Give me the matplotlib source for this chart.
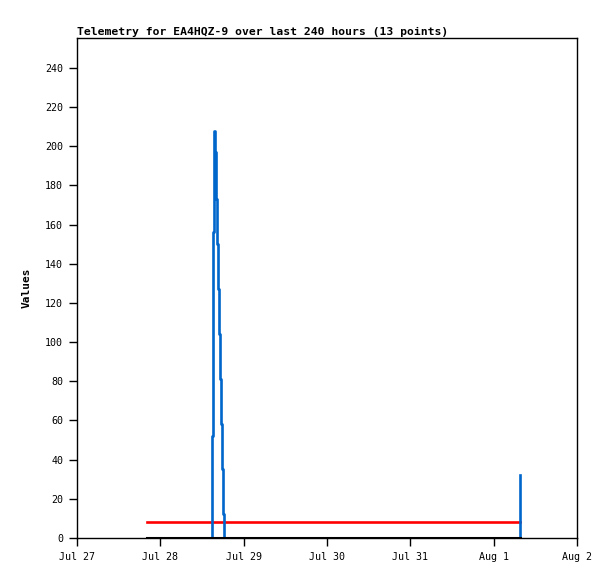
import matplotlib
matplotlib.use("Agg")
import matplotlib.pyplot as plt

# hours since Jul 27 00:00
tick_hours = [0, 24, 48, 72, 96, 120, 144]
tick_labels = ["Jul 27", "Jul 28", "Jul 29", "Jul 30", "Jul 31", "Aug 1", "Aug 2"]
y_ticks = list(range(0, 241, 20))

# channel 1 (blue), drawn as steps
blue_hours = [20.3, 39.0, 39.2, 39.55, 39.75, 40.03, 40.32, 40.61, 40.9,
              41.18, 41.47, 41.76, 42.05, 42.34, 127.7]
blue_vals = [0, 52, 156, 208, 197, 173, 150, 127, 104, 81, 58, 35, 12, 0, 32]

# channel 2 (red) and channel 3 (black)
red_hours = [20.3, 127.6]
red_vals = [8, 8]
black_hours = [20.3, 127.7]
black_vals = [0, 0]

fig = plt.figure(figsize=(6.15, 5.79), dpi=100)
ax = fig.add_axes([77 / 615, 41 / 579, 500 / 615, 500 / 579])

ax.plot(red_hours, red_vals, color="#ff0000", lw=1.9, zorder=2)
ax.plot(blue_hours, blue_vals, color="#0066cc", lw=1.9, drawstyle="steps-post",
        zorder=3)
ax.plot(black_hours, black_vals, color="black", lw=2.2, zorder=4)

ax.set_xlim(0, 144)
ax.set_ylim(0, 255.3)
ax.set_xticks(tick_hours)
ax.set_xticklabels(tick_labels)
ax.set_yticks(y_ticks)

mono = "DejaVu Sans Mono"
for lab in ax.get_xticklabels() + ax.get_yticklabels():
    lab.set_family(mono)
    lab.set_fontsize(7.2)
ax.tick_params(direction="out", length=6, width=1, pad=4)
for s in ax.spines.values():
    s.set_linewidth(1)

ax.set_ylabel("Values", family=mono, fontsize=8, fontweight="bold", labelpad=10)
ax.set_title("Telemetry for EA4HQZ-9 over last 240 hours (13 points)",
             family=mono, fontsize=8.2, fontweight="bold", loc="left", pad=2)

fig.savefig("out.png", dpi=100)
